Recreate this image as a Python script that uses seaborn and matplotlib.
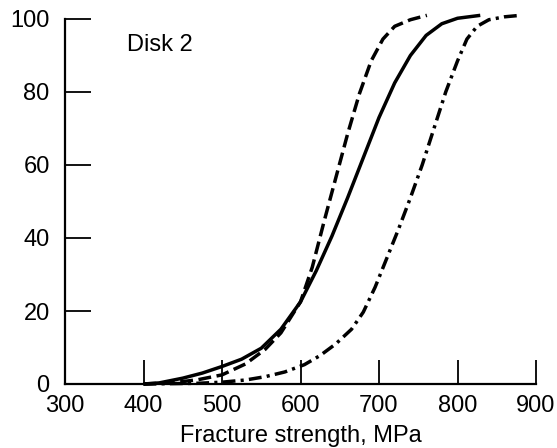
import matplotlib
matplotlib.use("Agg")
import matplotlib.pyplot as plt
import seaborn as sns

# Data
solid_x = [400, 420, 450, 475, 500, 525, 550, 575, 600, 620, 640, 660, 680, 700, 720, 740, 760, 780, 800, 829]
solid_y = [0, 0.3, 1.6, 3, 4.8, 6.8, 9.8, 15, 22.5, 31, 40.5, 51, 62, 73, 82.5, 90, 95.5, 98.7, 100.2, 101]

dashed_x = [400, 440, 470, 500, 530, 555, 575, 600, 615, 630, 645, 660, 675, 690, 705, 720, 740, 761]
dashed_y = [0, 0.4, 1.2, 2.5, 5.5, 9.5, 14, 22.5, 32, 44.5, 56.5, 68.5, 79.5, 88.5, 94.5, 98, 99.8, 101]

dashdot_x = [400, 470, 500, 530, 555, 580, 605, 625, 645, 665, 680, 695, 710, 725, 740, 755, 770, 785, 800, 812, 825, 840, 860, 880]
dashdot_y = [0, 0.2, 0.5, 1.1, 2, 3.3, 5.3, 7.8, 11, 15, 19.7, 26.5, 34.5, 42.5, 51, 60, 70, 80, 88.5, 94.5, 98, 99.8, 100.6, 101]

x_ticks = [300, 400, 500, 600, 700, 800, 900]
y_ticks = [0, 20, 40, 60, 80, 100]
x_label = "Fracture strength, MPa"
annotation = "Disk 2"

sns.set_style("ticks")
plt.rcParams['font.family'] = ['Liberation Sans', 'DejaVu Sans']
plt.rcParams['text.color'] = 'black'
plt.rcParams['axes.labelcolor'] = 'black'
plt.rcParams['xtick.color'] = 'black'
plt.rcParams['ytick.color'] = 'black'
plt.rcParams['axes.edgecolor'] = 'black'

fig = plt.figure(figsize=(5.57, 4.48), dpi=100)
ax = fig.add_axes([65/557, 1-384/448, (536-65)/557, (384-19)/448])

lw = 2.5
sns.lineplot(x=solid_x, y=solid_y, ax=ax, color='black', linewidth=lw, estimator=None, sort=False)
sns.lineplot(x=dashed_x, y=dashed_y, ax=ax, color='black', linewidth=lw, estimator=None, sort=False)
sns.lineplot(x=dashdot_x, y=dashdot_y, ax=ax, color='black', linewidth=lw, estimator=None, sort=False)
lines = ax.get_lines()
lines[1].set_dashes([3.7, 1.6])
lines[2].set_dashes([3.7, 1.5, 0.9, 1.5])
for ln in lines:
    ln.set_clip_on(False)
    ln.set_solid_capstyle('butt')
    ln.set_dash_capstyle('butt')
    ln.set_solid_joinstyle('round')

ax.set_xlim(300, 900)
ax.set_ylim(0, 100)
ax.set_xticks(x_ticks)
ax.set_yticks(y_ticks)
ax.tick_params(axis='y', direction='in', length=19, width=1.3, pad=11, labelsize=17)
ax.tick_params(axis='x', direction='in', length=17, width=1.3, pad=8, labelsize=17)
for s in ['top', 'right']:
    ax.spines[s].set_visible(False)
for s in ['left', 'bottom']:
    ax.spines[s].set_linewidth(1.6)
ax.set_xlabel(x_label, fontsize=17, labelpad=6)
ax.set_ylabel("")
ax.text(379, 93, annotation, fontsize=17, va='center', ha='left')

fig.savefig("out.png", dpi=100)
